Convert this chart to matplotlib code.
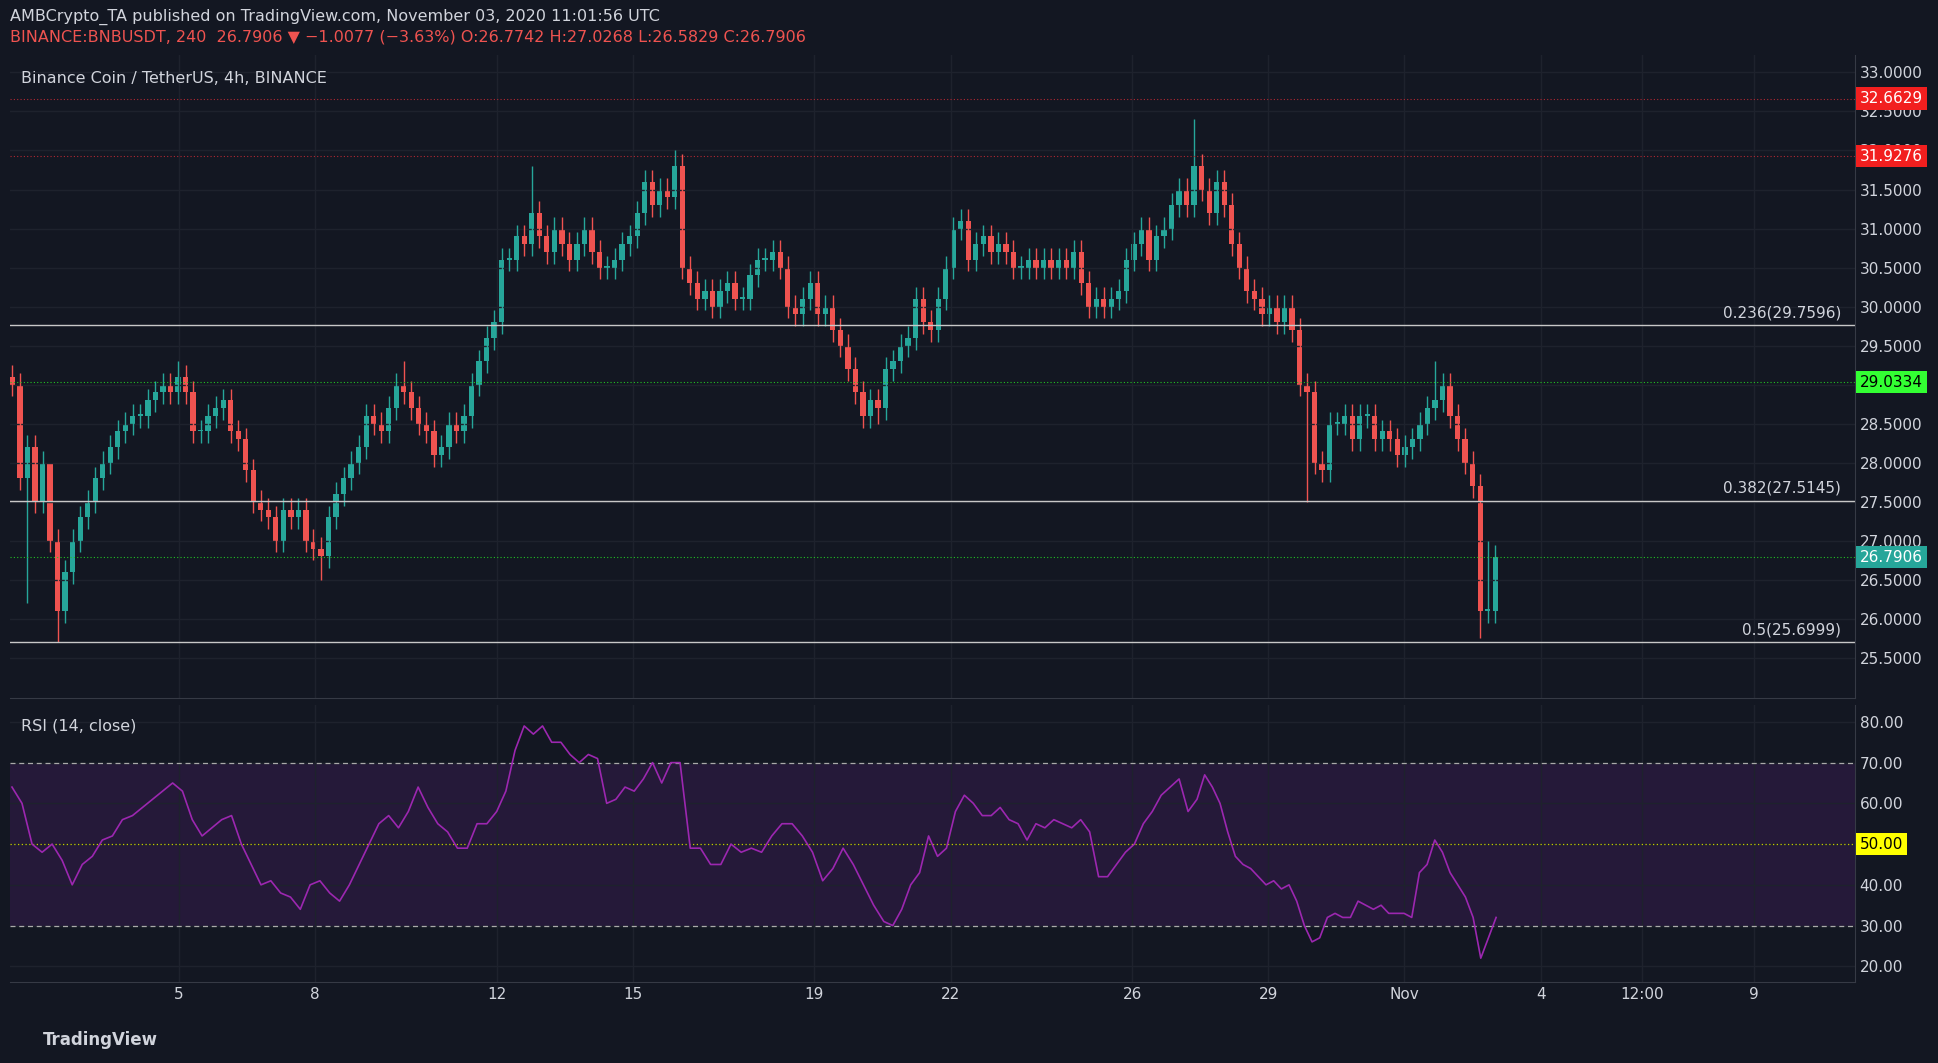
import numpy as np
import matplotlib
matplotlib.use("Agg")
import matplotlib.pyplot as plt
from matplotlib.patches import Rectangle

BG = "#131722"; UP = "#26a69a"; DN = "#ef5350"; TXT = "#d1d4dc"; GRID = "#1e222d"

closes = [29.0,27.8,28.2,27.5,28.0,27.0,26.1,
          26.6,27.0,27.3,27.5,27.8,28.0,28.2,28.4,28.5,28.6,28.6,28.8,28.9,29.0,28.9,29.1,
          28.9,28.4,28.4,28.6,28.7,28.8,28.4,28.3,27.9,27.5,27.4,27.3,27.0,27.4,27.3,27.4,27.0,26.9,26.8,
          27.3,27.6,27.8,28.0,28.2,28.6,28.5,28.4,28.7,29.0,28.9,
          28.7,28.5,28.4,28.1,28.2,28.5,28.4,28.6,29.0,29.3,29.6,29.8,30.6,
          30.6,30.9,30.8,31.2,30.9,30.7,31.0,30.8,30.6,30.8,31.0,30.7,30.5,30.5,30.6,30.8,30.9,31.2,31.6,31.3,31.5,31.4,31.8,
          30.5,30.3,30.1,30.2,30.0,30.2,30.3,30.1,30.1,30.4,30.6,30.6,30.7,30.5,30.0,29.9,30.1,30.3,29.9,30.0,
          29.7,29.5,29.2,28.9,28.6,28.8,28.7,29.2,29.3,29.5,29.6,30.1,29.8,29.7,30.1,30.5,31.0,31.1,30.6,30.8,
          30.9,30.7,30.8,30.7,30.5,30.5,30.6,30.5,30.6,30.5,30.6,30.5,30.7,30.3,30.0,30.1,30.0,30.1,30.2,30.6,
          30.8,31.0,30.6,30.9,31.0,31.3,31.5,31.3,31.8,31.5,
          31.2,31.6,31.3,30.8,30.5,30.2,30.1,29.9,30.0,29.8,30.0,29.7,29.0,28.9,28.0,
          27.9,28.5,28.5,28.6,28.3,28.6,28.6,28.3,28.4,28.3,28.1,28.2,28.3,28.5,28.7,28.8,29.0,28.6,28.3,28.0,
          27.7,26.1,26.1,26.79]
first_open = 29.1
wick = 0.15
extra_high = {22: 29.3, 52: 29.3, 69: 31.8, 88: 32.0, 157: 32.4, 189: 29.3, 196: 27.0, 5: 27.4}
extra_low = {2: 26.2, 6: 25.7, 41: 26.5, 115: 28.5, 172: 27.5, 195: 25.75}

rsi = [64,60,50,48,50,46,40,45,47,51,52,56,57,59,61,63,65,63,56,52,54,56,57,50,45,40,41,38,37,34,40,41,38,36,40,
       45,50,55,57,54,58,64,59,55,53,49,49,55,55,58,63,73,79,77,79,75,75,72,70,72,71,60,61,64,63,66,70,65,70,70,
       49,49,45,45,50,48,49,48,52,55,55,52,48,41,44,49,45,40,35,31,30,34,40,43,52,47,49,58,62,60,57,57,59,56,55,
       51,55,54,56,55,54,56,53,42,42,45,48,50,55,58,62,64,66,58,61,67,64,60,53,47,45,44,42,40,41,39,40,36,30,26,
       27,32,33,32,32,36,35,34,35,33,33,33,32,43,45,51,48,43,40,37,32,22,27,32]
# time (day of October) at a few RSI sample indices
rsi_anchor_idx = [0, 16, 49, 69, 89, 124, len(rsi) - 1]
rsi_anchor_day = [1.32, 4.86, 12.0, 16.04, 20.53, 27.43, 34.02]

fib_levels = [29.7596, 27.5145, 25.6999]
fib_labels = ["0.236(29.7596)", "0.382(27.5145)", "0.5(25.6999)"]
red_levels = [32.6629, 31.9276]
green_levels = [29.0334, 26.7906]
price_ticks = [25.5,26.0,26.5,27.0,27.5,28.0,28.5,29.0,29.5,30.0,30.5,31.0,31.5,32.0,32.5,33.0]
rsi_ticks = [20,30,40,50,60,70,80]
xtick_pos = [5,8,12,15,19,22,26,29,32,35,37.23,39.7]
xtick_lab = ["5","8","12","15","19","22","26","29","Nov","4","12:00","9"]

t0, t1 = 1.33, 34.0
n = len(closes)
times = np.linspace(t0, t1, n)
opens = [first_open] + closes[:-1]

fig = plt.figure(figsize=(19.38, 10.63), dpi=100, facecolor=BG)
ax = fig.add_axes([0.005, 0.343, 0.952, 0.605], facecolor=BG)
ax2 = fig.add_axes([0.005, 0.076, 0.952, 0.261], facecolor=BG, sharex=ax)

dt = (t1 - t0) / (n - 1)
for i in range(n):
    o, c = opens[i], closes[i]
    col = UP if c >= o else DN
    hi = extra_high.get(i, max(o, c) + wick)
    lo = extra_low.get(i, min(o, c) - wick)
    ax.vlines(times[i], lo, hi, color=col, lw=1)
    ax.add_patch(Rectangle((times[i] - dt * 0.35, min(o, c)), dt * 0.7, max(abs(c - o), 0.02), color=col, lw=0))

xl = (1.27, 41.92)
ax.set_xlim(*xl)
ax.set_ylim(24.98, 33.22)
for lv, lb in zip(fib_levels, fib_labels):
    ax.axhline(lv, color="#c8c8c8", lw=1)
    ax.text(xl[1] - 0.3, lv + 0.06, lb, color=TXT, ha="right", va="bottom", fontsize=11)
for lv in red_levels:
    ax.axhline(lv, color="#b22833", lw=0.8, ls=(0, (1, 2)))
    ax.text(1.003, lv, f"{lv:.4f}", transform=ax.get_yaxis_transform(), color="white", fontsize=11,
            va="center", ha="left", bbox=dict(boxstyle="square,pad=0.25", fc="#f21f1f", ec="none"))
ax.axhline(green_levels[0], color="#22c322", lw=0.8, ls=(0, (1, 2)))
ax.text(1.003, green_levels[0], f"{green_levels[0]:.4f}", transform=ax.get_yaxis_transform(), color="black",
        fontsize=11, va="center", ha="left", bbox=dict(boxstyle="square,pad=0.25", fc="#33ff33", ec="none"))
ax.axhline(green_levels[1], color="#22c322", lw=0.8, ls=(0, (1, 2)))
ax.text(1.003, green_levels[1], f"{green_levels[1]:.4f}", transform=ax.get_yaxis_transform(), color="white",
        fontsize=11, va="center", ha="left", bbox=dict(boxstyle="square,pad=0.25", fc="#26a69a", ec="none"))

ax.set_yticks(price_ticks)
ax.set_yticklabels([f"{v:.4f}" for v in price_ticks])
ax.yaxis.tick_right()
ax.text(0.006, 0.975, "Binance Coin / TetherUS, 4h, BINANCE", transform=ax.transAxes, color=TXT, fontsize=11.5, va="top")

rt = np.interp(np.arange(len(rsi)), rsi_anchor_idx, rsi_anchor_day)
ax2.axhspan(30, 70, color="#2a1a3f", alpha=0.8, lw=0)
ax2.axhline(70, color="#aaaaaa", lw=0.9, ls=(0, (4, 3)))
ax2.axhline(30, color="#aaaaaa", lw=0.9, ls=(0, (4, 3)))
ax2.axhline(50, color="#c9c900", lw=0.9, ls=(0, (1, 2)))
ax2.plot(rt, rsi, color="#9c27b0", lw=1.2)
ax2.set_ylim(16.1, 84.2)
ax2.set_yticks(rsi_ticks)
ax2.set_yticklabels([f"{v:.2f}" for v in rsi_ticks])
ax2.yaxis.tick_right()
ax2.text(1.003, 50, "50.00", transform=ax2.get_yaxis_transform(), color="black", fontsize=11, va="center",
         ha="left", bbox=dict(boxstyle="square,pad=0.25", fc="#ffff00", ec="none"))
ax2.text(0.006, 0.95, "RSI (14, close)", transform=ax2.transAxes, color=TXT, fontsize=11.5, va="top")
ax2.set_xticks(xtick_pos)
ax2.set_xticklabels(xtick_lab)
plt.setp(ax.get_xticklabels(), visible=False)

for a in (ax, ax2):
    a.grid(True, color=GRID, lw=1)
    a.tick_params(colors=TXT, labelsize=11, length=0)
    for s in a.spines.values():
        s.set_color("#363a45")
    a.spines["top"].set_visible(False)
    a.spines["left"].set_visible(False)

fig.text(0.005, 0.992, "AMBCrypto_TA published on TradingView.com, November 03, 2020 11:01:56 UTC",
         color=TXT, fontsize=11.5, va="top")
fig.text(0.005, 0.972, "BINANCE:BNBUSDT, 240  26.7906 ▼ −1.0077 (−3.63%) O:26.7742 H:27.0268 L:26.5829 C:26.7906",
         color=DN, fontsize=11.5, va="top")
fig.text(0.022, 0.022, "TradingView", color=TXT, fontsize=12, va="center", fontweight="bold")
fig.savefig("out.png", dpi=100, facecolor=BG)
